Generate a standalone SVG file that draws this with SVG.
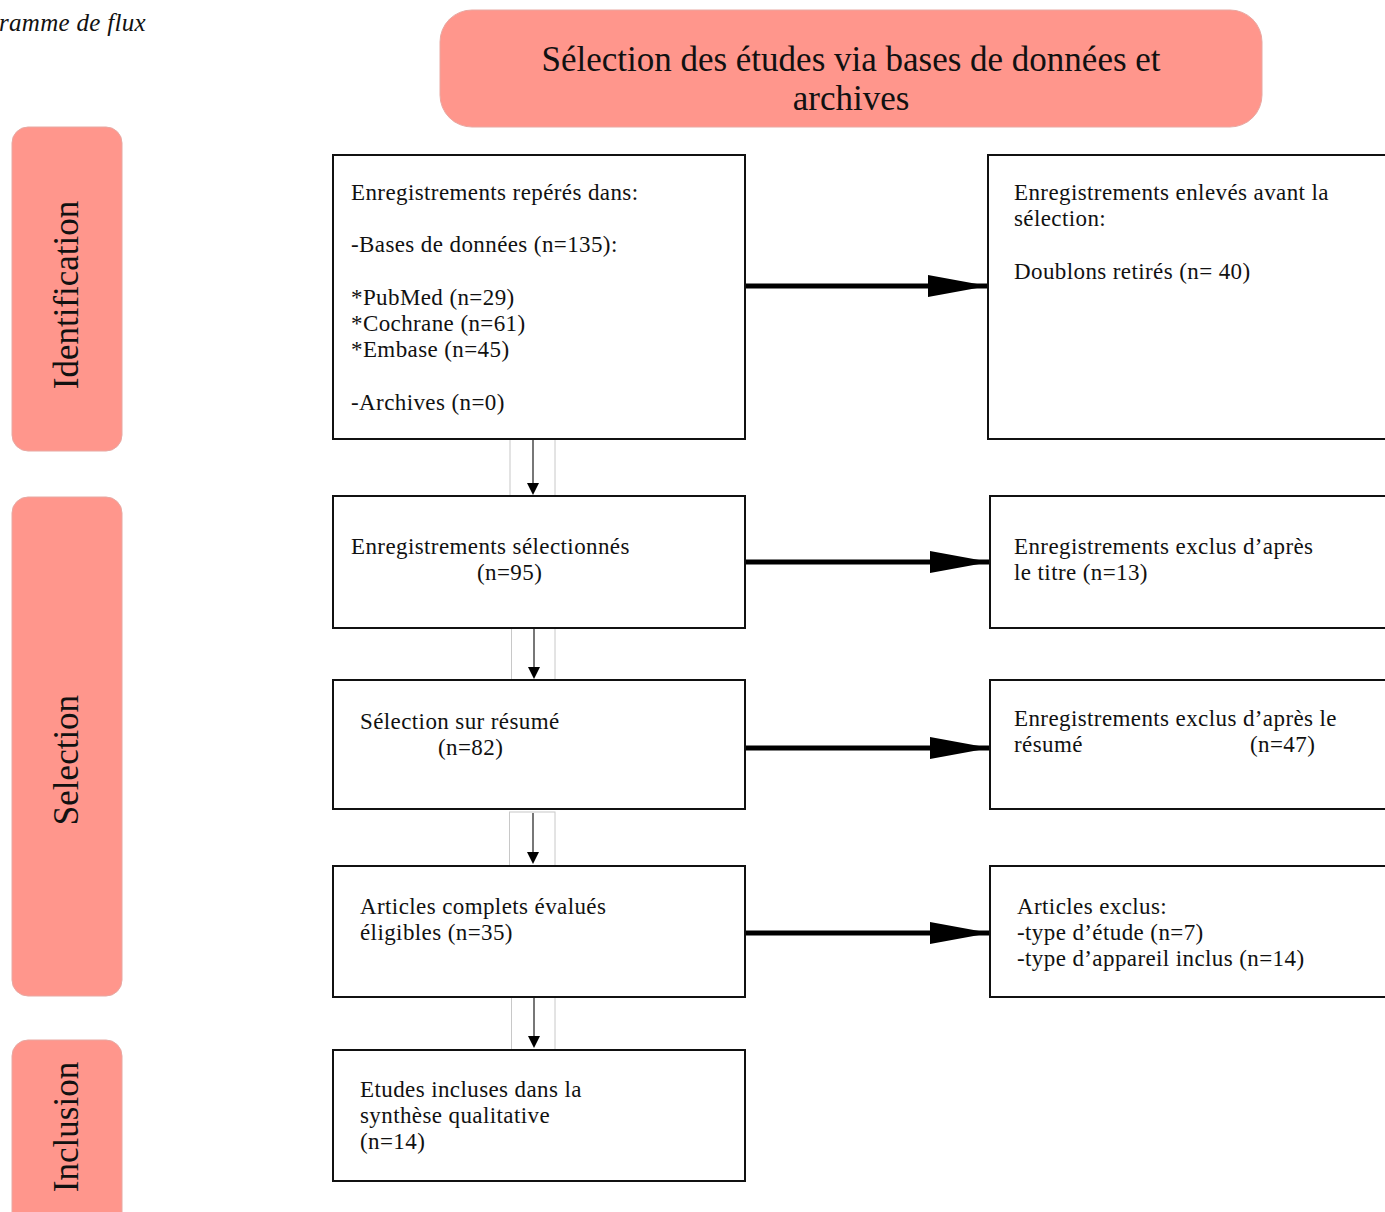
<svg xmlns="http://www.w3.org/2000/svg" width="1385" height="1212" viewBox="0 0 1385 1212">
<defs>
<style>
.t{font-family:"Liberation Serif","Times New Roman",serif;font-size:23px;letter-spacing:0.4px;fill:#111}
.hd{font-family:"Liberation Serif","Times New Roman",serif;font-size:35px;fill:#111}
.box{fill:#fff;stroke:#111;stroke-width:2}
.band{fill:#FF968C;stroke:#e8a8a2;stroke-width:1}
.thick{stroke:#000;stroke-width:5;fill:none}
.thin{stroke:#777;stroke-width:2;fill:none}
.frame{fill:none;stroke:#c8c8c8;stroke-width:1}
</style>
<marker id="big" markerUnits="userSpaceOnUse" markerWidth="62" markerHeight="22" refX="60" refY="11" orient="auto"><path d="M0,0 L60,11 L0,22 Z" fill="#000"/></marker>
</defs>
<rect width="1385" height="1212" fill="#fff"/>
<text class="t" x="-1" y="31" font-style="italic" style="font-size:25px;letter-spacing:0.3px">ramme de flux</text>

<g id="title">
<rect class="band" x="440" y="10" width="822" height="117" rx="32"/>
<text class="hd" x="851" y="71" text-anchor="middle">Sélection des études via bases de données et</text>
<text class="hd" x="851" y="110" text-anchor="middle">archives</text>
</g>

<g id="phase-identification">
<rect class="band" x="12" y="127" width="110" height="324" rx="16"/>
<text class="hd" transform="translate(78,295) rotate(-90)" text-anchor="middle">Identification</text>
</g>
<g id="phase-selection">
<rect class="band" x="12" y="497" width="110" height="499" rx="16"/>
<text class="hd" transform="translate(78,760) rotate(-90)" text-anchor="middle">Selection</text>
</g>
<g id="phase-inclusion">
<rect class="band" x="12" y="1040" width="110" height="190" rx="16"/>
<text class="hd" transform="translate(78,1127) rotate(-90)" text-anchor="middle">Inclusion</text>
</g>

<g id="connectors">
<rect class="frame" x="510" y="439" width="45" height="57"/>
<rect class="frame" x="511.5" y="628" width="43.5" height="52"/>
<rect class="frame" x="509.5" y="812" width="45.5" height="54"/>
<rect class="frame" x="511.5" y="997" width="43.5" height="53"/>
<line class="thin" x1="533" y1="440" x2="533" y2="484"/>
<path d="M527,483 L539,483 L533,495 Z" fill="#000"/>
<line class="thin" x1="534" y1="629" x2="534" y2="668"/>
<path d="M528,667 L540,667 L534,679 Z" fill="#000"/>
<line class="thin" x1="533" y1="813" x2="533" y2="853"/>
<path d="M527,852 L539,852 L533,864 Z" fill="#000"/>
<line class="thin" x1="534" y1="998" x2="534" y2="1037"/>
<path d="M528,1036 L540,1036 L534,1048 Z" fill="#000"/>
<line class="thick" x1="746" y1="286" x2="988" y2="286" marker-end="url(#big)"/>
<line class="thick" x1="746" y1="562" x2="990" y2="562" marker-end="url(#big)"/>
<line class="thick" x1="746" y1="748" x2="990" y2="748" marker-end="url(#big)"/>
<line class="thick" x1="746" y1="933" x2="990" y2="933" marker-end="url(#big)"/>
</g>

<g id="records-identified">
<rect class="box" x="333" y="155" width="412" height="284"/>
<text class="t" x="351" y="200">Enregistrements repérés dans:</text>
<text class="t" x="351" y="252">-Bases de données (n=135):</text>
<text class="t" x="351" y="305">*PubMed (n=29)</text>
<text class="t" x="351" y="331">*Cochrane (n=61)</text>
<text class="t" x="351" y="357">*Embase (n=45)</text>
<text class="t" x="351" y="410">-Archives (n=0)</text>
</g>
<g id="records-removed">
<rect class="box" x="988" y="155" width="410" height="284"/>
<text class="t" x="1014" y="200">Enregistrements enlevés avant la</text>
<text class="t" x="1014" y="226">sélection:</text>
<text class="t" x="1014" y="279">Doublons retirés (n= 40)</text>
</g>
<g id="records-screened">
<rect class="box" x="333" y="496" width="412" height="132"/>
<text class="t" x="351" y="554">Enregistrements sélectionnés</text>
<text class="t" x="477" y="580">(n=95)</text>
</g>
<g id="excluded-title">
<rect class="box" x="990" y="496" width="410" height="132"/>
<text class="t" x="1014" y="554">Enregistrements exclus d’après</text>
<text class="t" x="1014" y="580">le titre (n=13)</text>
</g>
<g id="abstract-screening">
<rect class="box" x="333" y="680" width="412" height="129"/>
<text class="t" x="360" y="729">Sélection sur résumé</text>
<text class="t" x="438" y="755">(n=82)</text>
</g>
<g id="excluded-abstract">
<rect class="box" x="990" y="680" width="410" height="129"/>
<text class="t" x="1014" y="726">Enregistrements exclus d’après le</text>
<text class="t" x="1014" y="752">résumé</text>
<text class="t" x="1250" y="752">(n=47)</text>
</g>
<g id="full-text">
<rect class="box" x="333" y="866" width="412" height="131"/>
<text class="t" x="360" y="914">Articles complets évalués</text>
<text class="t" x="360" y="940">éligibles (n=35)</text>
</g>
<g id="excluded-articles">
<rect class="box" x="990" y="866" width="410" height="131"/>
<text class="t" x="1017" y="914">Articles exclus:</text>
<text class="t" x="1017" y="940">-type d’étude (n=7)</text>
<text class="t" x="1017" y="966">-type d’appareil inclus (n=14)</text>
</g>
<g id="included">
<rect class="box" x="333" y="1050" width="412" height="131"/>
<text class="t" x="360" y="1097">Etudes incluses dans la</text>
<text class="t" x="360" y="1123">synthèse qualitative</text>
<text class="t" x="360" y="1149">(n=14)</text>
</g>
</svg>
